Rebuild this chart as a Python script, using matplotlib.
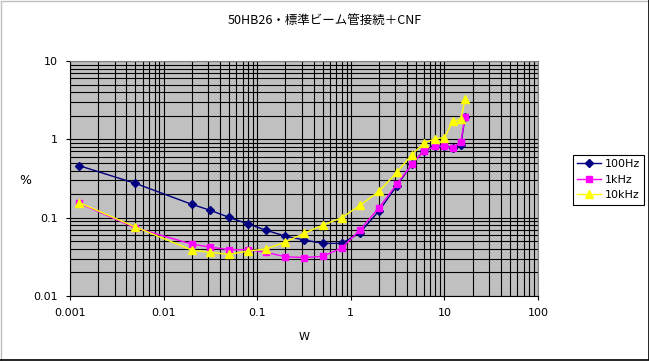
import numpy as np
import matplotlib
matplotlib.use('Agg')
import matplotlib.pyplot as plt
from matplotlib.ticker import LogLocator, FixedLocator, FixedFormatter, NullFormatter
from matplotlib.lines import Line2D

plt.rcParams['font.family'] = ['DejaVu Sans', 'Noto Sans CJK JP']

# output power (W)
power = [0.00126, 0.005, 0.02, 0.0316, 0.05, 0.08, 0.125, 0.2, 0.316, 0.5, 0.8,
         1.25, 2.0, 3.1, 4.5, 6.0, 8.0, 10.0, 12.3, 15.0, 16.6]
# distortion (%)
thd_100 = [0.46, 0.274, 0.148, 0.124, 0.101, 0.083, 0.069, 0.058, 0.052, 0.047, 0.047,
           0.064, 0.122, 0.255, 0.48, 0.71, 0.82, 0.82, 0.78, 0.84, 1.95]
thd_1k = [0.152, 0.074, 0.046, 0.042, 0.039, 0.039, 0.036, 0.0317, 0.031, 0.032, 0.041,
          0.0695, 0.134, 0.268, 0.48, 0.71, 0.82, 0.82, 0.78, 0.93, 1.95]
thd_10k = [0.155, 0.076, 0.0386, 0.036, 0.034, 0.0374, 0.040, 0.0488, 0.063, 0.080, 0.10,
           0.143, 0.217, 0.378, 0.64, 0.89, 1.02, 1.05, 1.70, 1.80, 3.24]

xticks = [0.001, 0.01, 0.1, 1, 10, 100]
xlabels = ['0.001', '0.01', '0.1', '1', '10', '100']
yticks = [0.01, 0.1, 1, 10]
ylabels = ['0.01', '0.1', '1', '10']

fig = plt.figure(figsize=(6.49, 3.61), dpi=100)
ax = fig.add_axes([70/649, 1-296/361, 468/649, 235/361])
ax.set_facecolor('#C0C0C0')
ax.set_xscale('log')
ax.set_yscale('log')
ax.set_xlim(0.001, 100)
ax.set_ylim(0.01, 10)

ax.plot(power, thd_100, color='#000080', marker='D', markersize=3.8, lw=1, label='100Hz', zorder=3)
ax.plot(power, thd_1k, color='#FF00FF', marker='s', markersize=4.5, lw=1, label='1kHz', zorder=4)
ax.plot(power, thd_10k, color='#FFFF00', marker='^', markersize=5.2, lw=1, label='10kHz', zorder=5)

ax.xaxis.set_major_locator(FixedLocator(xticks))
ax.xaxis.set_major_formatter(FixedFormatter(xlabels))
ax.yaxis.set_major_locator(FixedLocator(yticks))
ax.yaxis.set_major_formatter(FixedFormatter(ylabels))
ax.xaxis.set_minor_locator(LogLocator(base=10, subs=np.arange(2, 10)))
ax.yaxis.set_minor_locator(LogLocator(base=10, subs=np.arange(2, 10)))
ax.xaxis.set_minor_formatter(NullFormatter())
ax.yaxis.set_minor_formatter(NullFormatter())
ax.grid(True, which='both', color='black', lw=0.8, zorder=1)
ax.set_axisbelow(True)
ax.tick_params(which='major', direction='out', length=3, width=0.8, labelsize=8, pad=6)
ax.tick_params(which='minor', length=0)
for s in ['top', 'right']:
    ax.spines[s].set_color('#808080')
for s in ['bottom', 'left']:
    ax.spines[s].set_color('black')

ax.set_xlabel('W', fontsize=8, labelpad=10)
fig.text(25/649, 1-181/361, '%', fontsize=9, ha='center', va='center')
fig.text(0.5, 1-20/361, '50HB26・標準ビーム管接続＋CNF', ha='center', va='center',
         fontsize=9, family=['Noto Sans CJK JP', 'DejaVu Sans'])

leg = ax.legend(loc='upper left', bbox_to_anchor=(567/649, 1-149/361), bbox_transform=fig.transFigure,
                fontsize=8, frameon=True, fancybox=False, edgecolor='black', framealpha=1,
                borderpad=0.4, labelspacing=0.5, handlelength=2.2, handletextpad=0.3)
leg.get_frame().set_linewidth(0.8)

# outer chart border
fig.add_artist(Line2D([0.5/649, 0.5/649, 648.5/649], [0, 360.5/361, 360.5/361], color='#C0C0C0', lw=1,
                      transform=fig.transFigure))
fig.add_artist(Line2D([0, 648.5/649, 648.5/649], [1/361, 1/361, 1], color='black', lw=1.2,
                      transform=fig.transFigure))

fig.savefig('out.png', dpi=100)
